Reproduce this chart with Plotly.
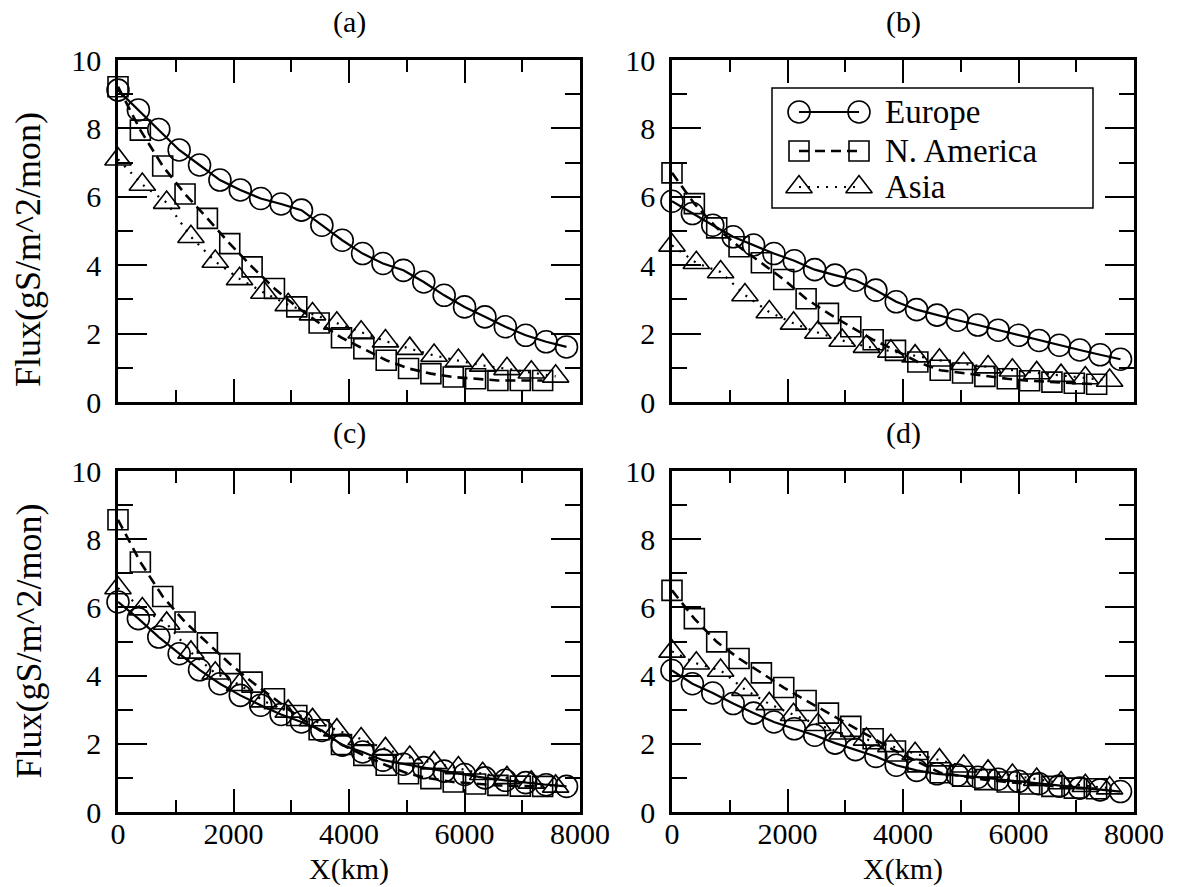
import plotly.graph_objects as go

W, H = 1182, 887
FONT = "Liberation Serif, Times New Roman, serif"

# x positions (km) of the sampled points for each region
x_europe = [0, 353, 706, 1059, 1412, 1765, 2118, 2471, 2824, 3177, 3530, 3883,
            4236, 4589, 4942, 5295, 5648, 6001, 6354, 6707, 7060, 7413, 7766]
x_namerica = [0, 387, 774, 1161, 1548, 1935, 2322, 2709, 3096, 3483, 3870,
              4257, 4644, 5031, 5418, 5805, 6192, 6579, 6966, 7353]
x_asia = [0, 421, 842, 1263, 1684, 2105, 2526, 2947, 3368, 3789, 4210, 4631,
          5052, 5473, 5894, 6315, 6736, 7157, 7578]

# flux (gS/m^2/mon), panels a-d
europe_a = [9.12, 8.54, 7.97, 7.37, 6.93, 6.49, 6.20, 5.95, 5.79, 5.61, 5.17, 4.73,
            4.34, 4.05, 3.85, 3.51, 3.12, 2.78, 2.49, 2.20, 1.95, 1.76, 1.61]
namerica_a = [9.22, 7.95, 6.90, 6.08, 5.37, 4.63, 3.95, 3.32, 2.78, 2.31, 1.88,
              1.56, 1.22, 0.98, 0.83, 0.73, 0.68, 0.63, 0.63, 0.63]
asia_a = [7.10, 6.36, 5.83, 4.83, 4.11, 3.60, 3.20, 2.84, 2.57, 2.30, 2.04, 1.78,
          1.56, 1.36, 1.21, 1.07, 0.97, 0.87, 0.75]

europe_b = [5.87, 5.51, 5.17, 4.83, 4.59, 4.34, 4.13, 3.87, 3.71, 3.56, 3.27, 2.93,
            2.70, 2.54, 2.39, 2.25, 2.10, 1.95, 1.80, 1.66, 1.52, 1.38, 1.25]
namerica_b = [6.70, 5.80, 5.09, 4.54, 4.07, 3.58, 3.02, 2.59, 2.20, 1.82, 1.51,
              1.17, 0.93, 0.85, 0.75, 0.68, 0.62, 0.58, 0.55, 0.52]
asia_b = [4.58, 4.07, 3.80, 3.13, 2.63, 2.30, 2.03, 1.80, 1.62, 1.48, 1.34, 1.22,
          1.12, 1.02, 0.93, 0.85, 0.77, 0.70, 0.63]

europe_c = [6.16, 5.67, 5.13, 4.64, 4.17, 3.76, 3.42, 3.13, 2.86, 2.64, 2.39, 1.96,
            1.76, 1.52, 1.40, 1.30, 1.20, 1.10, 1.00, 0.93, 0.86, 0.80, 0.75]
namerica_c = [8.57, 7.33, 6.32, 5.57, 4.96, 4.35, 3.81, 3.32, 2.83, 2.41, 1.98,
              1.66, 1.37, 1.12, 0.98, 0.88, 0.82, 0.78, 0.76, 0.75]
asia_c = [6.57, 5.95, 5.53, 4.68, 4.07, 3.73, 3.25, 2.95, 2.70, 2.40, 2.14, 1.85,
          1.60, 1.44, 1.29, 1.12, 1.00, 0.87, 0.75]

europe_d = [4.15, 3.76, 3.49, 3.18, 2.90, 2.64, 2.44, 2.25, 2.02, 1.83, 1.63, 1.37,
            1.22, 1.12, 1.08, 1.02, 0.96, 0.90, 0.83, 0.76, 0.70, 0.65, 0.60]
namerica_d = [6.50, 5.67, 4.99, 4.50, 4.08, 3.65, 3.27, 2.90, 2.51, 2.15, 1.79,
              1.47, 1.15, 1.05, 0.95, 0.88, 0.82, 0.75, 0.70, 0.68]
asia_d = [4.71, 4.36, 4.15, 3.59, 3.17, 2.85, 2.56, 2.31, 2.13, 1.94, 1.71, 1.52,
          1.34, 1.19, 1.07, 0.95, 0.85, 0.77, 0.70]

panel_labels = ["(a)", "(b)", "(c)", "(d)"]
region_names = ["Europe", "N. America", "Asia"]

panels = [
    (europe_a, namerica_a, asia_a),
    (europe_b, namerica_b, asia_b),
    (europe_c, namerica_c, asia_c),
    (europe_d, namerica_d, asia_d),
]

# pixel boxes of the four plot areas (left, right, top, bottom)
boxes = [(118, 580, 60, 402), (672, 1134, 60, 402),
         (118, 580, 471, 812), (672, 1134, 471, 812)]

styles = [
    dict(symbol="circle-open", size=22, dash="solid", lw=2.2),
    dict(symbol="square-open", size=20, dash="10px,6px", lw=2.6),
    dict(symbol="triangle-up-open", size=23, dash="2px,7px", lw=2.2),
]
xs = [x_europe, x_namerica, x_asia]


def font(size):
    return dict(family=FONT, size=size, color="black")


def px(p):
    return p / W


def py(p):
    return 1 - p / H


fig = go.Figure()

for i, series in enumerate(panels):
    ax = "" if i == 0 else str(i + 1)
    for j, ys in enumerate(series):
        st = styles[j]
        fig.add_trace(go.Scatter(
            x=xs[j], y=ys, name=region_names[j], mode="lines+markers",
            xaxis="x" + ax, yaxis="y" + ax, cliponaxis=False, showlegend=False,
            line=dict(color="black", width=st["lw"], dash=st["dash"]),
            marker=dict(symbol=st["symbol"], size=st["size"], color="black",
                        line=dict(width=1.6, color="black")),
        ))

layout = dict(
    template="none",
    width=W, height=H, margin=dict(l=0, r=0, t=0, b=0, autoexpand=False),
    paper_bgcolor="white", plot_bgcolor="white",
    font=font(30),
    showlegend=False,
)

annotations = []
for i, (l, r, t, b) in enumerate(boxes):
    ax = "" if i == 0 else str(i + 1)
    bottom_row = i >= 2
    layout["xaxis" + ax] = dict(
        domain=[px(l), px(r)], anchor="y" + ax, range=[0, 8000], tick0=0, dtick=2000,
        ticks="inside", ticklen=23, tickwidth=2, tickcolor="black",
        minor=dict(dtick=1000, ticks="inside", ticklen=12, tickwidth=2,
                   tickcolor="black", showgrid=False),
        showline=True, linewidth=2.5, linecolor="black", mirror="ticks",
        showgrid=False, zeroline=False, showticklabels=bottom_row,
        automargin=False, tickfont=font(30), ticklabelstandoff=-7,
    )
    layout["yaxis" + ax] = dict(
        domain=[py(b), py(t)], anchor="x" + ax, range=[0, 10], tick0=0, dtick=2,
        ticks="inside", ticklen=29, tickwidth=2, tickcolor="black",
        minor=dict(dtick=1, ticks="inside", ticklen=15, tickwidth=2,
                   tickcolor="black", showgrid=False),
        showline=True, linewidth=2.5, linecolor="black", mirror="ticks",
        showgrid=False, zeroline=False,
        automargin=False, tickfont=font(30), ticklabelstandoff=8,
    )
    annotations.append(dict(
        text=panel_labels[i], xref="paper", yref="paper",
        x=px((l + r) / 2), y=py(t - 38), xanchor="center", yanchor="middle",
        showarrow=False, font=font(30),
    ))
    if bottom_row:
        annotations.append(dict(
            text="X(km)", xref="paper", yref="paper",
            x=px((l + r) / 2), y=py(869), xanchor="center", yanchor="middle",
            showarrow=False, font=font(30),
        ))
    if i % 2 == 0:
        annotations.append(dict(
            text="Flux(gS/m^2/mon)", xref="paper", yref="paper",
            x=px(28), y=py((t + b) / 2 + (19 if i == 0 else 0)),
            xanchor="center", yanchor="middle", textangle=-90,
            showarrow=False, font=font(36),
        ))

# legend drawn by hand inside panel (b): box, two-marker samples, labels
leg_l, leg_r, leg_t, leg_b = 772, 1093, 88, 208
layout["xaxis5"] = dict(domain=[px(leg_l), px(leg_r)], range=[0, leg_r - leg_l],
                        visible=False, anchor="y5", fixedrange=True)
layout["yaxis5"] = dict(domain=[py(leg_b), py(leg_t)], range=[0, leg_b - leg_t],
                        visible=False, anchor="x5", fixedrange=True)
leg_rows = [96, 57, 21]
leg_sample_x = [27, 87]
for j, name in enumerate(region_names):
    st = styles[j]
    fig.add_trace(go.Scatter(
        x=leg_sample_x, y=[leg_rows[j]] * 2, mode="lines+markers",
        xaxis="x5", yaxis="y5", cliponaxis=False, showlegend=False, hoverinfo="skip",
        line=dict(color="black", width=st["lw"], dash=st["dash"]),
        marker=dict(symbol=st["symbol"], size=st["size"], color="black",
                    line=dict(width=1.6, color="black")),
    ))
    annotations.append(dict(
        text=name, xref="paper", yref="paper",
        x=px(883), y=py(leg_b - leg_rows[j]),
        xanchor="left", yanchor="middle", showarrow=False, font=font(33),
    ))

layout["annotations"] = annotations
layout["shapes"] = [dict(type="rect", xref="paper", yref="paper",
                         x0=px(leg_l), x1=px(leg_r), y0=py(leg_b), y1=py(leg_t),
                         line=dict(color="black", width=1.5), fillcolor="rgba(0,0,0,0)")]

fig.update_layout(**layout)
# drop the default 8px body margin so the figure fills the window exactly
fig.write_html("out.html", config={"displayModeBar": False},
               post_script="document.body.style.margin = '0';")
